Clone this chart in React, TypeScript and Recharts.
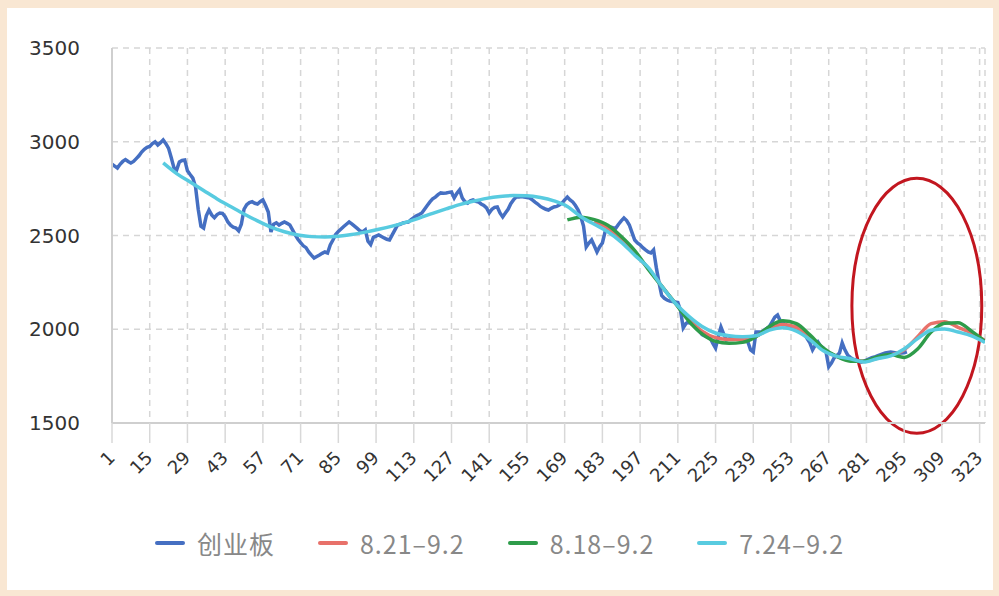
import React from 'react';
import { CartesianGrid, Line, LineChart, ReferenceArea, XAxis, YAxis } from 'recharts';

// 创业板 daily close (index 1..296) plus three fitted projection curves.

const xTicks = [1, 15, 29, 43, 57, 71, 85, 99, 113, 127, 141, 155, 169, 183, 197, 211, 225, 239, 253, 267, 281, 295, 309, 323];
const yTicks = [1500, 2000, 2500, 3000, 3500];

const boardValues = [
  2880, 2870, 2860, 2880, 2895, 2905, 2895, 2887, 2895, 2910,
  2925, 2945, 2960, 2970, 2975, 2990, 3000, 2983, 2995, 3010,
  2990, 2965, 2915, 2860, 2850, 2892, 2900, 2903, 2845, 2825,
  2806, 2760, 2640, 2550, 2540, 2605, 2636, 2610, 2595, 2612,
  2620, 2618, 2600, 2572, 2555, 2545, 2540, 2525, 2560, 2640,
  2665, 2676, 2680, 2672, 2668, 2680, 2690, 2660, 2625, 2519,
  2560, 2568, 2556, 2565, 2572, 2565, 2556, 2530, 2503, 2480,
  2462, 2445, 2435, 2412, 2395, 2380, 2388, 2396, 2405, 2412,
  2407, 2450, 2476, 2505, 2522, 2535, 2548, 2560, 2572, 2562,
  2550, 2538, 2525, 2519, 2530, 2470, 2452, 2490, 2497, 2503,
  2495, 2487, 2480, 2476, 2503, 2530, 2556, 2560, 2567, 2570,
  2572, 2585, 2595, 2605, 2612, 2620, 2640, 2660, 2679, 2695,
  2705, 2718, 2727, 2725, 2727, 2730, 2732, 2700, 2725, 2743,
  2700, 2680, 2673, 2685, 2690, 2682, 2679, 2668, 2660, 2647,
  2620, 2640, 2650, 2652, 2620, 2599, 2620, 2640, 2670, 2690,
  2705, 2705, 2708, 2705, 2702, 2700, 2690, 2678, 2668, 2655,
  2647, 2640, 2636, 2645, 2652, 2655, 2663, 2673, 2690, 2705,
  2690, 2679, 2660, 2636, 2600, 2550, 2439, 2460, 2476, 2445,
  2412, 2440, 2460, 2519, 2535, 2545, 2542, 2540, 2560, 2578,
  2593, 2580, 2556, 2515, 2476, 2460, 2450, 2435, 2423, 2412,
  2407, 2423, 2330, 2250, 2180, 2165, 2156, 2150, 2148, 2145,
  2142, 2100, 2007, 2030, 2039, 2030, 2023, 2005, 1990, 1972,
  1965, 1958, 1953, 1925, 1900, 1960, 2012, 1975, 1943, 1948,
  1953, 1952, 1953, 1953, 1945, 1938, 1932, 1890, 1879, 1985,
  1985, 1985, 1995, 2005, 2015, 2040, 2065, 2076, 2045, 2033,
  2025, 2015, 2012, 2012, 2012, 2000, 1990, 1975, 1950, 1927,
  1890, 1915, 1932, 1910, 1900, 1879, 1800, 1820, 1847, 1860,
  1873, 1927, 1890, 1863, 1850, 1840, 1836, 1830, 1825, 1830,
  1836, 1842, 1848, 1852, 1858, 1863, 1868, 1873, 1876, 1879,
  1876, 1873, 1873, 1873, 1875, 1880,
];

const fit724Idx = [20, 25, 30, 35, 40, 45, 50, 55, 60, 65, 70, 75, 80, 85, 90, 95, 100, 105, 110, 115, 120, 125, 130, 135, 140, 145, 150, 155, 160, 165, 170, 175, 180, 185, 190, 195, 200, 205, 210, 215, 220, 225, 230, 235, 240, 245, 250, 255, 260, 265, 270, 275, 280, 285, 290, 295, 300, 305, 310, 315, 320, 325];
const fit724Values = [2887, 2830, 2785, 2740, 2695, 2655, 2615, 2578, 2545, 2520, 2503, 2494, 2492, 2496, 2505, 2518, 2533, 2550, 2570, 2593, 2618, 2642, 2665, 2683, 2698, 2708, 2713, 2712, 2703, 2685, 2655, 2600, 2560, 2520, 2465, 2395, 2330, 2230, 2140, 2070, 2015, 1980, 1965, 1960, 1965, 1995, 2008, 1990, 1945, 1885, 1855, 1843, 1825, 1843, 1858, 1895, 1950, 1995, 2002, 1985, 1965, 1930];

const fit818Idx = [170, 175, 180, 185, 190, 195, 200, 205, 210, 215, 220, 225, 230, 235, 240, 245, 250, 255, 260, 265, 270, 275, 280, 285, 290, 295, 300, 305, 310, 315, 320, 325];
const fit818Values = [2583, 2598, 2585, 2555, 2495, 2420, 2320, 2230, 2140, 2045, 1975, 1935, 1925, 1930, 1960, 2015, 2045, 2030, 1970, 1900, 1855, 1830, 1830, 1852, 1865, 1850, 1895, 1985, 2032, 2035, 1990, 1935];

const fit821Idx = [180, 185, 190, 195, 200, 205, 210, 215, 220, 225, 230, 235, 240, 245, 250, 255, 260, 265, 270, 275, 280, 285, 290, 295, 300, 305, 310, 315, 320, 325];
const fit821Values = [2575, 2540, 2480, 2405, 2325, 2230, 2140, 2055, 1990, 1955, 1945, 1945, 1962, 2005, 2025, 2010, 1955, 1890, 1855, 1838, 1828, 1845, 1862, 1890, 1960, 2030, 2040, 2010, 1980, 1940];

// hand-drawn highlight ring, in data units
const ringBox = { x1: 275.6, x2: 323.8, y1: 1445, y2: 2805 };

const boardData = boardValues.map((v, i) => ({ x: i + 1, y: v }));
const toPoints = (idx: number[], vals: number[]) => idx.map((x, i) => ({ x, y: vals[i] }));

const series = [
  { name: '创业板', color: '#456fc2', data: boardData, curve: 'linear' },
  { name: '8.21–9.2', color: '#e8716a', data: toPoints(fit821Idx, fit821Values), curve: 'monotone' },
  { name: '8.18–9.2', color: '#2e9c4a', data: toPoints(fit818Idx, fit818Values), curve: 'monotone' },
  { name: '7.24–9.2', color: '#58cbe0', data: toPoints(fit724Idx, fit724Values), curve: 'monotone' },
];

const XTick = ({ x, y, payload }: any) => (
  <g transform={`translate(${x + 4},${y + 14})`}>
    <text textAnchor="end" transform="rotate(-45)" fontSize={18} fill="#333" fontFamily="DejaVu Sans">
      {payload.value}
    </text>
  </g>
);

const Ring = ({ x, y, width, height }: any) => (
  <ellipse
    cx={x + width / 2}
    cy={y + height / 2}
    rx={width / 2}
    ry={height / 2}
    fill="none"
    stroke="#c2161f"
    strokeWidth={3}
  />
);

export default function App() {
  return (
    <div style={{ position: 'absolute', left: 0, top: 0, width: 999, height: 596, background: '#f9e7d3' }}>
      <div style={{ position: 'absolute', left: 7, top: 8, width: 986, height: 582, background: '#fff' }} />
      <div style={{ position: 'absolute', left: 0, top: 0 }}>
        <LineChart width={999} height={596} margin={{ top: 48, right: 14, left: 52, bottom: 113 }}>
          <CartesianGrid stroke="#d6d6d6" strokeDasharray="6 5" strokeWidth={1.5} />
          <XAxis
            type="number"
            dataKey="x"
            domain={[1, 325]}
            ticks={xTicks}
            interval={0}
            height={60}
            tickSize={20}
            tickMargin={2}
            axisLine={{ stroke: '#cfcfcf', strokeWidth: 2 }}
            tickLine={{ stroke: '#d8d8d8', strokeWidth: 1.5 }}
            tick={<XTick />}
            allowDataOverflow
          />
          <YAxis
            type="number"
            domain={[1500, 3500]}
            ticks={yTicks}
            width={60}
            tickLine={false}
            tickSize={6}
            tickMargin={26}
            axisLine={{ stroke: '#cfcfcf', strokeWidth: 2 }}
            tick={{ fontSize: 20, fill: '#333', fontFamily: 'DejaVu Sans' }}
          />
          {series.map((s) => (
            <Line
              key={s.name}
              data={s.data}
              dataKey="y"
              name={s.name}
              type={s.curve as any}
              stroke={s.color}
              strokeWidth={3.5}
              dot={false}
              isAnimationActive={false}
            />
          ))}
          <ReferenceArea {...ringBox} ifOverflow="visible" shape={<Ring />} />
        </LineChart>
      </div>
      <div
        style={{
          position: 'absolute',
          left: 0,
          top: 525,
          width: 999,
          display: 'flex',
          justifyContent: 'center',
          gap: 43,
          fontFamily: '"Noto Sans CJK SC", "DejaVu Sans", sans-serif',
          fontSize: 25,
          letterSpacing: 1,
          color: '#888',
        }}
      >
        {series.map((s) => (
          <div key={s.name} style={{ display: 'flex', alignItems: 'center', gap: 12 }}>
            <span style={{ display: 'inline-block', width: 30, height: 4, borderRadius: 2, background: s.color }} />
            <span>{s.name}</span>
          </div>
        ))}
      </div>
    </div>
  );
}
